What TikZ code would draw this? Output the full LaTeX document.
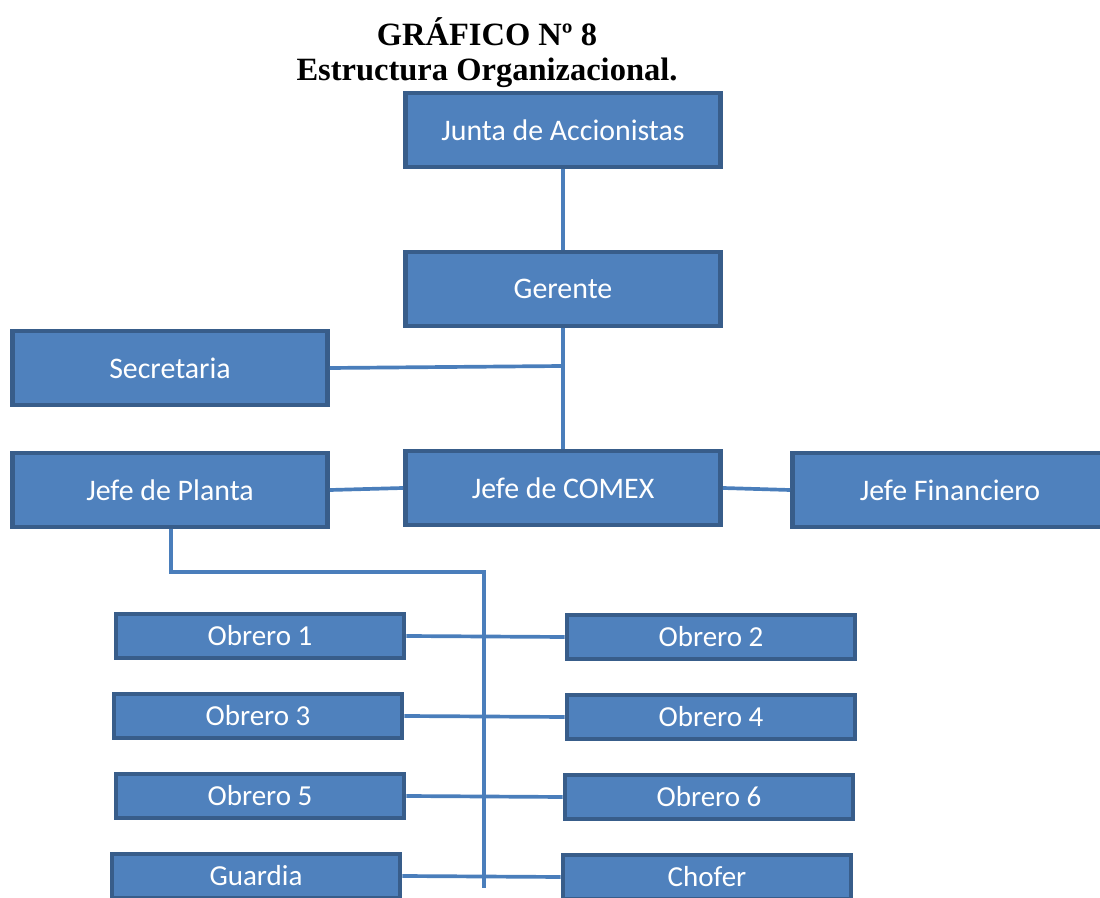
\documentclass[tikz,border=0pt]{standalone}
\usepackage{fontspec}
\setmainfont{Liberation Serif}
\newfontfamily\boxfont{Carlito}
\definecolor{boxfill}{HTML}{4F81BD}
\definecolor{boxline}{HTML}{385D8A}
\definecolor{linkline}{HTML}{4A7EBB}
\begin{document}
\begin{tikzpicture}[x=0.02cm,y=-0.02cm,
  orgbox/.style={draw=boxline,fill=boxfill,line width=2.8pt,inner sep=0pt,
    minimum width=6.4cm-2.8pt,minimum height=1.58cm-2.8pt,
    font=\boxfont\fontsize{17}{19}\selectfont,text=white},
  workbox/.style={orgbox,minimum width=5.86cm-2.8pt,minimum height=0.98cm-2.8pt,
    font=\boxfont\fontsize{16.5}{18}\selectfont},
  link/.style={draw=linkline,line width=2.1pt}]
\useasboundingbox (0,0) rectangle (1100,898);
% title
\node[font=\bfseries\fontsize{18.5}{20}\selectfont,align=center] (title) at (487,53)
  {GRÁFICO Nº 8\\Estructura Organizacional.};
% management
\node[orgbox] (junta) at (563,130) {Junta de Accionistas};
\node[orgbox] (gerente) at (563,289) {Gerente};
\node[orgbox] (secre) at (170,368) {Secretaria};
\node[orgbox] (planta) at (170,490) {Jefe de Planta};
\node[orgbox] (comex) at (563,488) {Jefe de COMEX};
\node[orgbox] (finan) at (950,490) {Jefe Financiero};
% staff
\node[workbox] (o1) at (260,636) {Obrero 1};
\node[workbox] (o2) at (711,637) {Obrero 2};
\node[workbox] (o3) at (258,716) {Obrero 3};
\node[workbox] (o4) at (711,717) {Obrero 4};
\node[workbox] (o5) at (260,796) {Obrero 5};
\node[workbox] (o6) at (709,797) {Obrero 6};
\node[workbox] (guard) at (256,876) {Guardia};
\node[workbox] (chofer) at (707,877) {Chofer};
% connectors
\coordinate (jg) at (563,366);
\coordinate (p1) at (171,572);
\coordinate (p2) at (484,572);
\coordinate (p3) at (484,888);
\draw[link] (junta.south) -- (gerente.north);
\draw[link] (gerente.south) -- (comex.north);
\draw[link] (secre.east) -- (jg);
\draw[link] (planta.east) -- (comex.west);
\draw[link] (comex.east) -- (finan.west);
\draw[link] (planta.south -| p1) -- (p1) -- (p2) -- (p3);
\draw[link] (o1.east) -- (o2.west);
\draw[link] (o3.east) -- (o4.west);
\draw[link] (o5.east) -- (o6.west);
\draw[link] (guard.east) -- (chofer.west);
\end{tikzpicture}
\end{document}
